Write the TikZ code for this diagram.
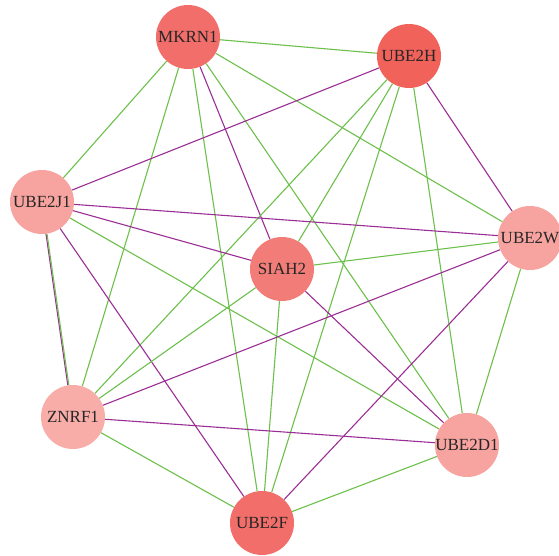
\documentclass[tikz,border=0pt]{standalone}
\usepackage{fontspec}
\setmainfont{Liberation Serif}
\usepackage{tikz}
\definecolor{hub}{HTML}{F0625A}
\definecolor{mid}{HTML}{F26E6A}
\definecolor{soft}{HTML}{F27C77}
\definecolor{pale}{HTML}{F7A39F}
\definecolor{paler}{HTML}{F8ADA9}
\definecolor{grn}{HTML}{6DC04B}
\definecolor{prp}{HTML}{9A2E95}
\tikzset{
  gene/.style={circle,minimum size=64pt,inner sep=-1pt,text=black!85,font=\fontsize{17}{19}\selectfont},
  up/.style={grn,line width=1.1pt},
  down/.style={prp,line width=1.1pt}
}

\begin{document}
\begin{tikzpicture}[x=1pt,y=-1pt]
\clip (0,0) rectangle (559,556);
\node[gene,fill=mid] (mkrn1) at (188,37) {MKRN1};
\node[gene,fill=hub] (ube2h) at (409,56) {UBE2H};
\node[gene,fill=pale] (ube2j1) at (42,202) {UBE2J1};
\node[gene,fill=soft] (siah2) at (282,269) {SIAH2};
\node[gene,fill=pale] (ube2w) at (530,238) {UBE2W};
\node[gene,fill=paler] (znrf1) at (73,417) {ZNRF1};
\node[gene,fill=pale] (ube2d1) at (467,445) {UBE2D1};
\node[gene,fill=mid] (ube2f) at (262,523) {UBE2F};
\draw[up] (mkrn1) -- (ube2h);
\draw[up] (mkrn1) -- (ube2j1);
\draw[down] (mkrn1) -- (siah2);
\draw[up] (mkrn1) -- (ube2w);
\draw[up] (mkrn1) -- (znrf1);
\draw[up] (mkrn1) -- (ube2d1);
\draw[up] (mkrn1) -- (ube2f);
\draw[down] (ube2h) -- (ube2j1);
\draw[up] (ube2h) -- (siah2);
\draw[down] (ube2h) -- (ube2w);
\draw[up] (ube2h) -- (znrf1);
\draw[up] (ube2h) -- (ube2d1);
\draw[up] (ube2h) -- (ube2f);
\draw[down] (ube2j1) -- (siah2);
\draw[down] (ube2j1) -- (ube2w);
\draw[down,transform canvas={xshift=-0.6pt}] (ube2j1) -- (znrf1);
\draw[up,transform canvas={xshift=0.4pt}] (ube2j1) -- (znrf1);
\draw[up] (ube2j1) -- (ube2d1);
\draw[down] (ube2j1) -- (ube2f);
\draw[up] (siah2) -- (ube2w);
\draw[up] (siah2) -- (znrf1);
\draw[down] (siah2) -- (ube2d1);
\draw[up] (siah2) -- (ube2f);
\draw[down] (ube2w) -- (znrf1);
\draw[up] (ube2w) -- (ube2d1);
\draw[down] (ube2w) -- (ube2f);
\draw[down] (znrf1) -- (ube2d1);
\draw[up] (znrf1) -- (ube2f);
\draw[up] (ube2d1) -- (ube2f);
\end{tikzpicture}
\end{document}
